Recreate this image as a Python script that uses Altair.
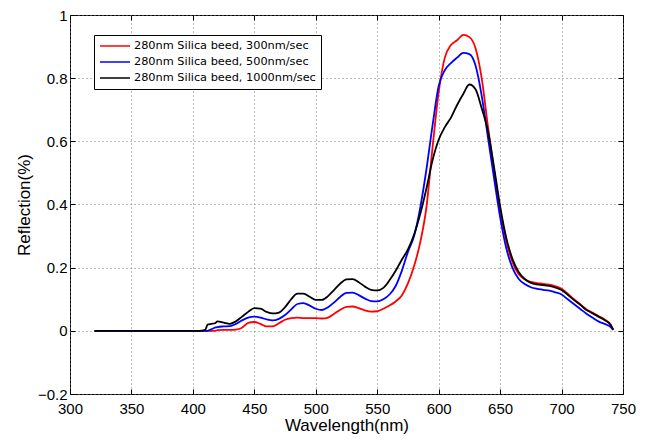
import altair as alt
import pandas as pd

wavelength = [320, 400, 405, 410, 412, 415, 418, 420, 425, 430, 435, 440, 445, 450, 455, 460, 465, 470,
              475, 480, 485, 490, 495, 500, 505, 510, 515, 520, 525, 530, 535, 540, 545, 550, 555, 560,
              565, 570, 575, 580, 585, 590, 595, 600, 605, 610, 615, 620, 625, 630, 635, 640, 645, 650,
              655, 660, 665, 670, 675, 680, 685, 690, 695, 700, 705, 710, 715, 720, 725, 730, 735, 740, 742]

red = [0, 0, 0, 0, 0, 0, 0, 0.002, 0.003, 0.003, 0.004, 0.01, 0.025, 0.028, 0.022, 0.014, 0.014, 0.024,
       0.035, 0.04, 0.042, 0.04, 0.04, 0.04, 0.039, 0.042, 0.054, 0.067, 0.076, 0.077, 0.072, 0.065, 0.061, 0.062, 0.07, 0.08,
       0.093, 0.112, 0.15, 0.205, 0.28, 0.39, 0.58, 0.755, 0.865, 0.905, 0.92, 0.937, 0.93, 0.895, 0.8, 0.65, 0.51, 0.385,
       0.285, 0.218, 0.18, 0.163, 0.155, 0.151, 0.149, 0.146, 0.141, 0.133, 0.118, 0.1, 0.085, 0.068, 0.058, 0.047, 0.036, 0.02, 0.003]

blue = [0, 0, 0, 0, 0, 0.005, 0.01, 0.012, 0.014, 0.015, 0.022, 0.033, 0.042, 0.045, 0.042, 0.036, 0.033, 0.038,
        0.05, 0.068, 0.085, 0.088, 0.08, 0.07, 0.066, 0.075, 0.09, 0.108, 0.12, 0.121, 0.113, 0.102, 0.094, 0.093, 0.1, 0.115,
        0.142, 0.19, 0.25, 0.3, 0.39, 0.51, 0.65, 0.775, 0.825, 0.848, 0.865, 0.88, 0.876, 0.84, 0.745, 0.615, 0.485, 0.36,
        0.262, 0.2, 0.165, 0.148, 0.138, 0.133, 0.13, 0.127, 0.122, 0.115, 0.1, 0.085, 0.07, 0.055, 0.042, 0.03, 0.022, 0.012, 0.003]

black = [0, 0, 0, 0.003, 0.02, 0.022, 0.024, 0.03, 0.026, 0.022, 0.03, 0.045, 0.06, 0.072, 0.07, 0.06, 0.055, 0.058,
         0.075, 0.1, 0.118, 0.118, 0.108, 0.098, 0.098, 0.11, 0.13, 0.15, 0.163, 0.164, 0.154, 0.14, 0.13, 0.128, 0.136, 0.16,
         0.19, 0.225, 0.258, 0.305, 0.37, 0.45, 0.54, 0.605, 0.645, 0.675, 0.715, 0.75, 0.78, 0.765, 0.705, 0.635, 0.52, 0.395,
         0.295, 0.228, 0.187, 0.164, 0.152, 0.147, 0.145, 0.142, 0.137, 0.129, 0.114, 0.098, 0.083, 0.067, 0.056, 0.045, 0.034, 0.018, 0.003]

series_names = ["280nm Silica beed, 300nm/sec",
                "280nm Silica beed, 500nm/sec",
                "280nm Silica beed, 1000nm/sec"]
series_colors = ["#ff0000", "#0000ff", "#000000"]

x_ticks = [300, 350, 400, 450, 500, 550, 600, 650, 700, 750]
y_ticks = [-0.2, 0, 0.2, 0.4, 0.6, 0.8, 1]

rows = []
for name, vals in zip(series_names, [red, blue, black]):
    for w, v in zip(wavelength, vals):
        rows.append({"wavelength": w, "reflection": v, "series": name})
df = pd.DataFrame(rows)

FONT = "Liberation Sans"
LFONT = "DejaVu Sans"
xscale = alt.Scale(domain=[300, 750], nice=False, zero=False)
yscale = alt.Scale(domain=[-0.2, 1], nice=False, zero=False)

main = alt.Chart(df).mark_line(strokeWidth=1.8, interpolate="monotone").encode(
    x=alt.X("wavelength:Q", scale=xscale,
            axis=alt.Axis(values=x_ticks, title="Wavelength(nm)", grid=True, gridDash=[1, 3],
                          gridColor="#777777", tickSize=0, domain=False, labelPadding=7,
                          labelFlush=False, labelFontSize=15, titleFontSize=17, titlePadding=1,
                          labelColor="black", titleColor="black", titleFontWeight="normal",
                          labelFont=FONT, titleFont=FONT)),
    y=alt.Y("reflection:Q", scale=yscale,
            axis=alt.Axis(values=y_ticks, title="Reflection(%)", format="~g", grid=True, gridDash=[1, 3],
                          gridColor="#777777", tickSize=0, domain=False, labelPadding=3,
                          labelFlush=False, labelFontSize=15, titleFontSize=17, titlePadding=4,
                          labelColor="black", titleColor="black", titleFontWeight="normal",
                          labelFont=FONT, titleFont=FONT)),
    color=alt.Color("series:N", scale=alt.Scale(domain=series_names, range=series_colors),
                    legend=alt.Legend(title=None, orient="none", legendX=24, legendY=20,
                                      symbolType="M-1,0H5", symbolSize=100, symbolStrokeWidth=1.5,
                                      labelFontSize=11.3, labelFont=LFONT, labelColor="black",
                                      labelLimit=400,
                                      fillColor="white", strokeColor="black", padding=5,
                                      rowPadding=4, labelOffset=23)),
)

tick_axis = dict(labels=False, grid=False, domain=False, tickSize=5, tickColor="black", title=None, offset=-5)

inner1 = alt.Chart(df).mark_line(opacity=0).encode(
    x=alt.X("wavelength:Q", scale=xscale, axis=alt.Axis(values=x_ticks, orient="bottom", **tick_axis)),
    y=alt.Y("reflection:Q", scale=yscale, axis=alt.Axis(values=y_ticks, orient="left", **tick_axis)),
    detail="series:N",
)
inner2 = alt.Chart(df).mark_line(opacity=0).encode(
    x=alt.X("wavelength:Q", scale=xscale, axis=alt.Axis(values=x_ticks, orient="top", **tick_axis)),
    y=alt.Y("reflection:Q", scale=yscale, axis=alt.Axis(values=y_ticks, orient="right", **tick_axis)),
    detail="series:N",
)

chart = alt.layer(main, inner1, inner2).resolve_axis(x="independent", y="independent").properties(
    width=553, height=379,
    autosize=alt.AutoSizeParams(type="none"),
    padding={"left": 70, "top": 15, "right": 36, "bottom": 52},
    background="white",
).configure_view(stroke="black", strokeWidth=1)

chart.save("out.html", embed_options={"renderer": "svg", "actions": False})
